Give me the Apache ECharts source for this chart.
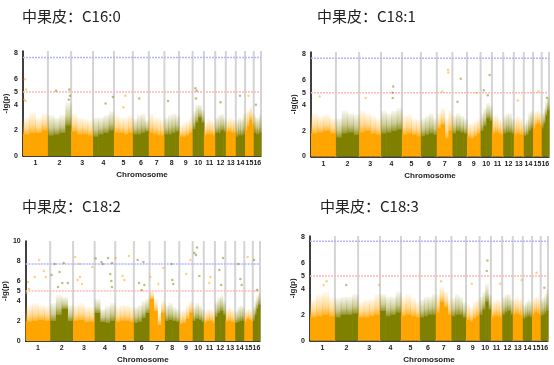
<!DOCTYPE html>
<html><head><meta charset="utf-8">
<script src="https://cdn.jsdelivr.net/npm/echarts@6/dist/echarts.min.js"></script>
<style>html,body{margin:0;padding:0;background:#fff}#c{width:554px;height:365px}</style>
</head><body><div id="c"></div>
<script>
// ---------- data ----------
const chromLabels = ['1','2','3','4','5','6','7','8','9','10','11','12','13','14','15','16'];
const chromLen = [75,70,66,63,57,48,47,44,41,34,34,32,30,28,26,22];
const titles = ['中果皮：C16:0','中果皮：C18:1','中果皮：C18:2','中果皮：C18:3'];
const yTicks8 = [0,2,4,5,6,8];
const yTicks10 = [0,2,4,5,6,8,10];
const suggestiveLine = 5.0;
const genomeWideLine = 7.7;

// dense band per chromosome (4 bins each): solid top / scatter top (-lg p)
const c160Base = [[1.7,1.8,1.8,2.0],[1.6,1.7,1.8,2.4],[1.9,1.7,1.7,1.6],[1.5,1.7,1.8,2.0],[1.8,1.8,1.7,1.8],[1.7,1.7,1.8,1.9],[1.8,1.7,1.6,1.6],[1.7,1.7,1.8,1.9],[1.5,1.5,1.6,1.8],[2.1,2.6,3.0,2.6],[1.6,1.7,1.7,1.6],[1.8,1.8,2.0,1.9],[1.9,1.9,1.8,1.8],[1.5,1.6,1.6,1.7],[2.0,2.3,2.8,2.4],[1.8,1.7,1.7,1.8]];
const c160Top  = [[3.0,3.4,3.0,3.3],[3.2,3.0,3.2,4.2],[3.3,3.0,2.9,2.8],[3.0,3.0,3.2,3.5],[3.2,3.0,3.0,3.2],[2.9,3.2,3.3,2.8],[3.3,3.0,3.0,2.8],[3.0,3.2,3.3,3.2],[2.4,2.6,2.7,3.0],[3.5,4.0,4.0,3.6],[2.6,2.9,2.8,2.6],[3.0,3.2,3.3,3.0],[2.8,3.0,2.9,2.8],[2.8,3.0,2.9,3.3],[3.4,3.6,3.9,3.4],[3.2,3.0,3.0,3.3]];
const c160Hits = [[1,0.08,6.0],[1,0.12,5.2],[1,0.10,4.3],[1,0.05,4.4],[2,0.35,5.1],[2,0.92,5.2],[2,0.95,4.7],[2,0.90,4.4],[4,0.95,4.6],[4,0.60,4.1],[5,0.60,4.7],[5,0.50,3.8],[6,0.40,4.5],[8,0.25,4.3],[10,0.25,5.3],[10,0.35,5.1],[10,0.30,4.5],[12,0.50,4.2],[14,0.45,4.7],[15,0.40,4.7],[16,0.30,4.0]];

const c181Base = [[1.8,1.9,2.0,1.8],[1.5,1.8,1.9,1.7],[1.9,2.0,1.8,1.7],[1.8,1.9,2.0,2.1],[1.7,1.8,1.7,1.6],[1.6,1.7,1.8,1.7],[2.2,2.5,1.4,2.0],[1.8,2.0,1.9,1.8],[1.5,1.4,1.6,1.8],[2.0,2.4,3.0,2.8],[1.8,1.9,1.8,1.7],[1.8,1.9,1.9,1.8],[1.7,1.8,1.7,1.7],[1.6,1.7,2.0,2.2],[2.2,2.5,2.6,2.4],[2.2,2.6,3.2,3.6]];
const c181Top  = [[3.4,3.2,3.3,3.0],[3.0,3.6,3.4,3.3],[3.6,3.4,3.2,3.0],[3.6,3.4,3.6,3.8],[3.2,3.3,3.0,2.9],[3.0,3.2,3.4,3.0],[3.4,3.8,3.0,3.6],[3.2,3.4,3.2,3.0],[2.6,2.6,2.8,3.0],[3.4,3.8,4.2,4.0],[3.2,3.3,3.0,2.8],[3.2,3.4,3.4,3.0],[3.0,3.2,3.0,2.9],[2.6,2.9,3.5,3.6],[3.4,3.6,3.6,3.4],[3.4,3.8,4.4,4.8]];
const c181Hits = [[1,0.35,4.7],[3,0.30,4.6],[4,0.58,5.5],[4,0.55,5.0],[4,0.56,4.6],[7,0.34,5.1],[7,0.72,6.8],[7,0.74,6.6],[8,0.57,6.1],[8,0.35,4.3],[9,0.70,5.0],[10,0.29,5.2],[10,0.63,4.8],[10,0.80,6.4],[13,0.40,4.4],[15,0.62,5.1],[16,0.70,4.6]];

const c182Base = [[1.9,2.0,2.1,2.0],[2.0,2.6,3.2,2.0],[2.0,2.1,1.9,1.9],[2.8,1.9,1.8,2.0],[1.9,2.0,2.0,1.9],[1.8,1.9,2.3,2.8],[4.2,3.0,1.6,2.8],[2.0,2.1,2.0,1.9],[1.7,1.8,2.2,2.8],[2.0,2.2,2.1,1.9],[1.8,2.0,2.0,1.8],[2.4,2.8,3.0,2.6],[1.9,2.0,1.9,1.8],[1.8,1.9,2.0,2.0],[1.9,2.2,2.1,1.9],[2.0,2.6,3.2,3.6]];
const c182Top  = [[3.6,3.8,3.6,3.5],[3.8,4.6,4.4,3.6],[3.6,3.8,3.4,3.4],[4.2,3.2,3.5,3.8],[3.4,3.6,3.6,3.4],[3.4,3.6,4.0,4.2],[5.0,4.2,2.8,4.0],[3.6,3.8,3.4,3.2],[3.0,3.2,3.6,4.0],[3.4,3.8,3.6,3.2],[3.0,3.2,3.2,3.0],[4.0,4.4,4.6,4.0],[3.2,3.4,3.2,3.0],[3.0,3.4,3.6,3.4],[3.0,3.2,3.2,3.0],[3.4,4.0,4.6,4.8]];
const c182Hits = [[1,0.55,8.1],[1,0.37,6.4],[1,0.74,7.0],[1,0.82,6.4],[1,0.10,5.9],[1,0.14,5.2],[1,0.03,4.8],
[2,0.20,7.7],[2,0.59,7.8],[2,0.06,6.6],[2,0.41,6.9],[2,0.53,5.8],[2,0.77,5.8],[2,0.34,5.4],
[3,0.10,8.4],[3,0.29,7.7],[3,0.32,6.4],[3,0.41,5.7],[3,0.21,6.1],[3,0.89,7.4],
[4,0.05,8.25],[4,0.33,7.9],[4,0.65,8.3],[4,0.84,7.8],[4,0.40,7.7],[4,0.76,6.7],[4,0.81,6.0],[4,0.84,5.4],
[5,0.02,8.3],[5,0.74,8.5],[5,0.39,6.5],[5,0.49,6.1],
[6,0.24,8.1],[6,0.61,7.9],[6,0.33,5.8],[6,0.67,5.6],[6,0.50,5.1],
[7,0.04,6.4],[7,0.89,7.3],[7,0.57,5.7],
[8,0.47,7.7],[8,0.51,6.1],[8,0.58,5.7],
[9,0.52,6.7],[9,0.83,8.1],
[10,0.15,8.8],[10,0.39,9.35],[10,0.30,8.6],[10,0.60,6.5],
[11,0.59,6.4],[11,0.50,5.8],
[12,0.43,7.1],[12,0.77,8.3],[12,0.60,5.6],
[14,0.36,7.7],[14,0.57,6.2],[14,0.71,5.6],
[15,0.38,8.4],
[16,0.17,8.1],[16,0.58,5.1]];

const c183Base = [[1.8,1.9,2.0,1.9],[1.8,2.0,2.0,2.1],[1.8,1.8,1.9,2.0],[2.3,1.9,2.0,2.2],[1.9,2.0,1.9,1.8],[1.8,1.9,2.0,2.0],[2.2,3.0,2.6,2.0],[1.9,2.0,2.0,1.8],[1.6,1.5,1.7,1.9],[2.0,2.4,3.0,2.4],[1.8,1.9,1.9,1.8],[2.0,2.2,2.3,2.0],[2.0,2.1,2.0,1.9],[1.7,1.8,1.9,1.8],[2.0,2.2,2.1,2.0],[1.9,2.0,2.1,2.3]];
const c183Top  = [[3.2,3.6,3.8,3.3],[3.3,3.4,3.4,3.6],[3.0,3.2,3.2,3.6],[3.6,3.4,3.4,3.8],[3.4,3.6,3.3,3.0],[3.2,3.4,3.4,3.6],[3.6,4.2,3.8,3.2],[3.3,3.6,3.4,3.0],[2.8,2.6,3.0,3.2],[3.4,3.8,4.4,3.6],[3.0,3.2,3.2,3.0],[3.4,3.6,3.6,3.2],[3.2,3.4,3.2,3.2],[2.8,3.0,3.2,3.0],[3.2,3.4,3.4,3.2],[3.2,3.4,3.6,4.0]];
const c183Hits = [[1,0.67,4.6],[1,0.55,4.3],[2,0.49,4.3],[3,0.95,4.3],[7,0.34,4.6],[9,0.42,4.4],[10,0.69,6.2],[10,0.63,5.4],[11,0.82,4.4],[13,0.90,4.7],[15,0.52,5.25],[16,0.50,4.1]];

// ---------- layout / style ----------
const COLORS = ['#FFA500', '#808000'];
const RGB = ['255,165,0', '128,128,0'];
const panels = [
  {base:c160Base, top:c160Top, hits:c160Hits, ymax:8.2, ticks:yTicks8, grid:{left:23, top:51, width:238, height:105}, title:{left:22, top:9}},
  {base:c181Base, top:c181Top, hits:c181Hits, ymax:8.2, ticks:yTicks8, grid:{left:311, top:52, width:238, height:104.5}, title:{left:317, top:9}},
  {base:c182Base, top:c182Top, hits:c182Hits, ymax:10, ticks:yTicks10, grid:{left:23, top:241, width:237, height:103}, title:{left:22, top:199}},
  {base:c183Base, top:c183Top, hits:c183Hits, ymax:8.1, ticks:yTicks8, grid:{left:310, top:236, width:238, height:104.7}, title:{left:320, top:199}}
];

const offs = [];
let acc = 0;
chromLen.forEach(l => { offs.push(acc); acc += l; });
const total = acc;
const centers = chromLen.map((l, i) => offs[i] + l / 2);
const bounds = offs.slice(1).concat([total]);

function renderBand(params, api) {
  const x0 = api.value(0), x1 = api.value(1), b = api.value(2), t = api.value(3), k = api.value(4);
  const p0 = api.coord([x0, 0]), pb = api.coord([x1, b]), pt = api.coord([x1, t]);
  const w = pb[0] - p0[0] + 0.6;
  return {type: 'group', children: [
    {type: 'rect', shape: {x: p0[0], y: pb[1], width: w, height: p0[1] - pb[1]}, style: {fill: COLORS[k]}},
    {type: 'rect', shape: {x: p0[0], y: pt[1], width: w, height: pb[1] - pt[1] + 0.5},
     style: {fill: new echarts.graphic.LinearGradient(0, 0, 0, 1, [
       {offset: 0, color: 'rgba(' + RGB[k] + ',0.05)'},
       {offset: 0.6, color: 'rgba(' + RGB[k] + ',0.4)'},
       {offset: 1, color: 'rgba(' + RGB[k] + ',0.85)'}])}}
  ]};
}
function renderVLine(params, api) {
  const x = api.value(0), ym = api.value(1);
  const a = api.coord([x, 0]), b = api.coord([x, ym]);
  return {type: 'line', shape: {x1: a[0], y1: a[1], x2: b[0], y2: b[1]}, style: {stroke: '#d4d4d4', lineWidth: 2}};
}

const option = {animation: false, backgroundColor: '#fff', title: [], grid: [], xAxis: [], yAxis: [], series: []};
panels.forEach((p, gi) => {
  option.title.push({text: titles[gi], left: p.title.left, top: p.title.top, padding: 0,
    textStyle: {fontFamily: 'Noto Sans CJK SC', fontSize: 15, fontWeight: 'normal', color: '#222'}});
  option.grid.push(Object.assign({containLabel: false}, p.grid));
  option.xAxis.push({type: 'value', gridIndex: gi, min: 0, max: total,
    axisLine: {show: true, lineStyle: {color: '#000', width: 1.5}}, axisTick: {show: false}, splitLine: {show: false},
    axisLabel: {customValues: centers, fontSize: 7, fontWeight: 'bold', color: '#222', margin: 4, fontFamily: 'Liberation Sans',
      formatter: v => { let bi = 0, bd = 1e9; centers.forEach((c, i) => { const d = Math.abs(c - v); if (d < bd) { bd = d; bi = i; } }); return chromLabels[bi]; }},
    name: 'Chromosome', nameLocation: 'middle', nameGap: 15,
    nameTextStyle: {fontSize: 8, fontWeight: 'bold', color: '#222', fontFamily: 'Liberation Sans'}});
  option.yAxis.push({type: 'value', gridIndex: gi, min: 0, max: p.ymax, interval: 1,
    axisLine: {show: true, lineStyle: {color: '#000', width: 1.5}}, axisTick: {show: false}, splitLine: {show: false},
    axisLabel: {customValues: p.ticks, fontSize: 7, fontWeight: 'bold', color: '#222', margin: 5, fontFamily: 'Liberation Sans',
      formatter: v => (p.ticks.indexOf(Math.round(v * 100) / 100) >= 0 ? String(v) : '')},
    name: '-lg(p)', nameLocation: 'middle', nameGap: 13, nameRotate: 90,
    nameTextStyle: {fontSize: 8, fontWeight: 'bold', color: '#222', fontFamily: 'Liberation Sans'}});

  // chromosome boundaries
  option.series.push({type: 'custom', xAxisIndex: gi, yAxisIndex: gi, z: 1, silent: true, clip: false,
    renderItem: renderVLine, data: bounds.map(x => [x, p.ymax])});
  // dense bands
  const bandData = [];
  chromLen.forEach((l, ci) => {
    const nb = p.base[ci].length;
    for (let j = 0; j < nb; j++) {
      bandData.push([offs[ci] + l * j / nb, offs[ci] + l * (j + 1) / nb, p.base[ci][j], p.top[ci][j], ci % 2]);
    }
  });
  option.series.push({type: 'custom', xAxisIndex: gi, yAxisIndex: gi, z: 2, silent: true, renderItem: renderBand, data: bandData});
  // thresholds
  option.series.push({type: 'line', xAxisIndex: gi, yAxisIndex: gi, z: 3, silent: true, showSymbol: false,
    data: [[0, genomeWideLine], [total, genomeWideLine]], lineStyle: {color: '#b4b4ff', width: 1.5, type: [2, 1]}});
  option.series.push({type: 'line', xAxisIndex: gi, yAxisIndex: gi, z: 3, silent: true, showSymbol: false,
    data: [[0, suggestiveLine], [total, suggestiveLine]], lineStyle: {color: '#ffb8b8', width: 1.5, type: [2, 1]}});
  // significant points
  option.series.push({type: 'scatter', xAxisIndex: gi, yAxisIndex: gi, z: 4, silent: true, symbolSize: 2.5,
    data: p.hits.map(h => [offs[h[0] - 1] + chromLen[h[0] - 1] * h[1], h[2], (h[0] - 1) % 2]),
    itemStyle: {opacity: 0.5, color: prm => COLORS[prm.data[2]]}});
});

const chart = echarts.init(document.getElementById('c'), null, {renderer: 'canvas'});
chart.setOption(option);
</script>
</body></html>
